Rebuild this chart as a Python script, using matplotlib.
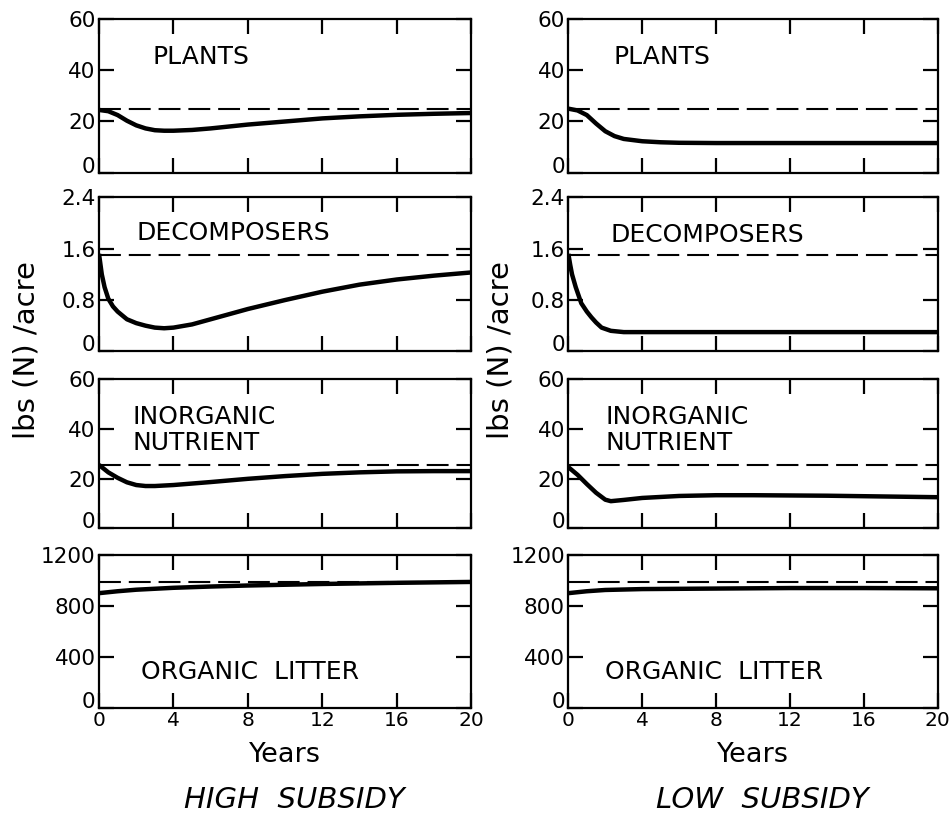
import matplotlib
matplotlib.use("Agg")
import matplotlib.pyplot as plt

plt.rcParams['font.family'] = ['DejaVu Sans']

# ---------------- data ----------------
years_ticks = [0, 4, 8, 12, 16, 20]
x_tick_labels = ["0", "4", "8", "12", "16", "20"]

plants_ticks = [0, 20, 40, 60]
decomp_ticks = [0, 0.8, 1.6, 2.4]
decomp_tick_labels = ["0", "0.8", "1.6", "2.4"]
inorg_ticks = [0, 20, 40, 60]
litter_ticks = [0, 400, 800, 1200]

panel_names = ["PLANTS", "DECOMPOSERS", "INORGANIC\nNUTRIENT", "ORGANIC  LITTER"]
column_titles = ["HIGH  SUBSIDY", "LOW  SUBSIDY"]
y_axis_label = "lbs (N) /acre"
x_axis_label = "Years"

# equilibrium (dashed) levels
eq_plants = 25
eq_decomp = 1.5
eq_inorg = 25.5
eq_litter = 990

# High subsidy
t_plants_high = [0, 0.5, 1, 1.5, 2, 2.5, 3, 3.5, 4, 5, 6, 8, 10, 12, 14, 16, 18, 20]
plants_high = [24.5, 24, 22.5, 20.3, 18.5, 17.3, 16.6, 16.4, 16.4, 16.7, 17.3, 18.8, 20, 21.2, 22, 22.6, 23, 23.3]

t_decomp_high = [0, 0.15, 0.3, 0.5, 0.75, 1, 1.5, 2, 2.5, 3, 3.5, 4, 5, 6, 8, 10, 12, 14, 16, 18, 20]
decomp_high = [1.52, 1.2, 1.0, 0.82, 0.7, 0.62, 0.5, 0.44, 0.4, 0.37, 0.36, 0.37, 0.42, 0.5, 0.66, 0.8, 0.93, 1.04, 1.12, 1.18, 1.23]

t_inorg_high = [0, 0.5, 1, 1.5, 2, 2.5, 3, 4, 6, 8, 10, 12, 14, 16, 18, 20]
inorg_high = [25.5, 22.5, 20.3, 18.5, 17.4, 17.0, 17.0, 17.4, 18.6, 19.9, 21.0, 21.9, 22.5, 22.9, 23.0, 23.0]

t_litter_high = [0, 1, 2, 4, 6, 8, 12, 16, 20]
litter_high = [900, 915, 927, 942, 952, 960, 972, 981, 988]

# Low subsidy
t_plants_low = [0, 0.5, 1, 1.5, 2, 2.5, 3, 4, 5, 6, 8, 12, 16, 20]
plants_low = [25, 24.3, 22.5, 19.2, 16.2, 14.3, 13.2, 12.3, 11.9, 11.7, 11.6, 11.6, 11.6, 11.6]

t_decomp_low = [0, 0.1, 0.2, 0.4, 0.7, 1, 1.25, 1.5, 1.8, 2.3, 3, 4, 8, 12, 16, 20]
decomp_low = [1.52, 1.35, 1.2, 1.0, 0.75, 0.62, 0.53, 0.45, 0.37, 0.32, 0.3, 0.3, 0.3, 0.3, 0.3, 0.3]

t_inorg_low = [0, 0.5, 1, 1.5, 2, 2.3, 3, 4, 6, 8, 10, 12, 14, 16, 18, 20]
inorg_low = [24.6, 21.5, 17.8, 14.3, 11.5, 10.9, 11.4, 12.2, 13.0, 13.3, 13.3, 13.2, 13.1, 12.9, 12.7, 12.5]

t_litter_low = [0, 1, 2, 4, 8, 12, 16, 20]
litter_low = [900, 915, 925, 932, 936, 940, 940, 938]

# ---------------- figure ----------------
fig = plt.figure(figsize=(9.52, 8.19), dpi=100)

col_x = [0.104, 0.597]
col_w = [0.391, 0.388]
rows = [(0.789, 0.188), (0.571, 0.188), (0.355, 0.182), (0.1355, 0.187)]

series = [
    [(t_plants_high, plants_high), (t_decomp_high, decomp_high), (t_inorg_high, inorg_high), (t_litter_high, litter_high)],
    [(t_plants_low, plants_low), (t_decomp_low, decomp_low), (t_inorg_low, inorg_low), (t_litter_low, litter_low)],
]
eqs = [eq_plants, eq_decomp, eq_inorg, eq_litter]
yticks = [plants_ticks, decomp_ticks, inorg_ticks, litter_ticks]
yticklabels = [[str(v) for v in plants_ticks], decomp_tick_labels,
               [str(v) for v in inorg_ticks], [str(v) for v in litter_ticks]]
ylims = [(0, 60), (0, 2.4), (0, 60), (0, 1200)]
label_pos = [
    [(2.85, 45.0), (2.0, 1.84), (1.8, 39.7), (2.27, 282)],
    [(2.43, 45.0), (2.27, 1.82), (2.0, 39.7), (2.0, 282)],
]

LW = 1.6
for c in range(2):
    for r in range(4):
        b, h = rows[r]
        ax = fig.add_axes([col_x[c], b, col_w[c], h])
        t, v = series[c][r]
        ax.axhline(eqs[r], color='black', lw=1.5, dashes=(10.5, 3.8))
        ax.plot(t, v, color='black', lw=3.2, solid_capstyle='butt')
        ax.set_xlim(0, 20)
        ax.set_ylim(*ylims[r])
        ax.set_yticks(yticks[r])
        ax.set_yticklabels(yticklabels[r])
        ax.set_xticks(years_ticks)
        if r == 3:
            ax.set_xticklabels(x_tick_labels)
        else:
            ax.set_xticklabels([])
        ax.tick_params(axis='both', which='major', direction='in', length=11,
                       width=LW, top=True, right=True, pad=2.5)
        ax.tick_params(axis='y', labelsize=15.5)
        ax.tick_params(axis='x', labelsize=14.5)
        # the "0" label sits on the bottom frame line, as in the original
        ax.get_yticklabels()[0].set_va('baseline')
        for s in ax.spines.values():
            s.set_linewidth(LW)
        lx, ly = label_pos[c][r]
        ax.text(lx, ly, panel_names[r], fontsize=18, ha='left', va='center',
                linespacing=1.1)
    axc = col_x[c] + col_w[c] / 2
    fig.text(axc, 1 - 755 / 819, x_axis_label, fontsize=19.5, ha='center', va='center')
    fig.text(axc + 0.010, 1 - 800 / 819, column_titles[c], fontsize=21,
             style='italic', ha='center', va='center')

fig.text(27 / 952, 0.573, y_axis_label, rotation=90, fontsize=21, ha='center', va='center')
fig.text(500 / 952, 0.573, y_axis_label, rotation=90, fontsize=21, ha='center', va='center')

fig.savefig("out.png", dpi=100, facecolor='white')
